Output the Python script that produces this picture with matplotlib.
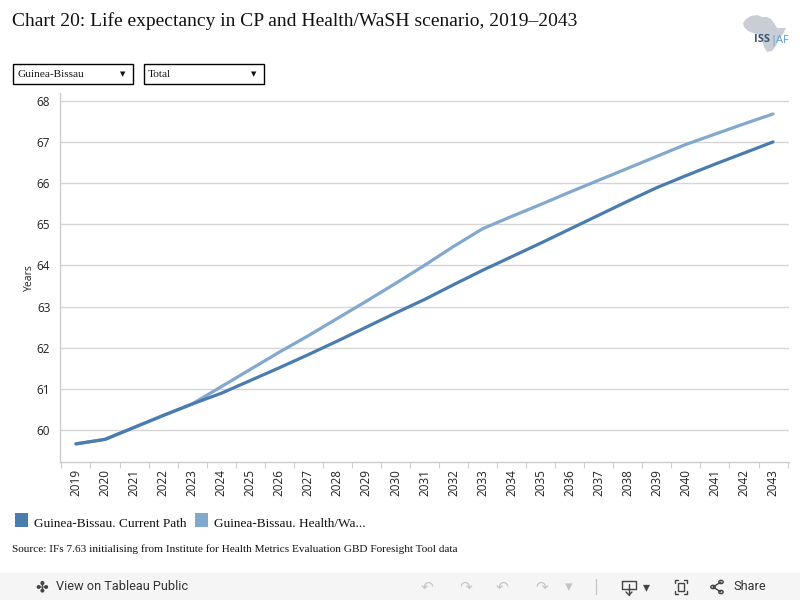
import matplotlib
matplotlib.use("Agg")
import matplotlib.pyplot as plt
from matplotlib.patches import Rectangle, Polygon
from matplotlib.lines import Line2D
import numpy as np

# ---- data ----
years = [str(y) for y in range(2019, 2044)]
current_path = [59.66, 59.77, 60.06, 60.35, 60.63, 60.89, 61.20, 61.51, 61.83, 62.16,
                62.50, 62.84, 63.17, 63.53, 63.88, 64.21, 64.54, 64.88, 65.22, 65.56,
                65.89, 66.18, 66.46, 66.73, 67.00]
health_wash = [59.66, 59.77, 60.06, 60.35, 60.63, 61.05, 61.47, 61.89, 62.29, 62.71,
               63.13, 63.56, 64.00, 64.46, 64.89, 65.19, 65.48, 65.78, 66.07, 66.36,
               66.65, 66.94, 67.19, 67.44, 67.68]
y_ticks = [60, 61, 62, 63, 64, 65, 66, 67, 68]
series_labels = ["Guinea-Bissau. Current Path", "Guinea-Bissau. Health/Wa..."]

DARK = "#4a7cad"
LIGHT = "#82a9cd"
W, H = 800, 600

def fx(px):
    return px / W

def fy(py):
    return 1 - py / H

fig = plt.figure(figsize=(8, 6), dpi=100)
fig.patch.set_facecolor("white")

SERIF = ["Liberation Serif", "DejaVu Serif"]
SANS = ["Open Sans", "DejaVu Sans"]

def fig_line(pts, color, lw=1.2):
    fig.lines.append(Line2D([fx(a) for a, b in pts], [fy(b) for a, b in pts],
                            transform=fig.transFigure, color=color, lw=lw,
                            solid_capstyle="round", solid_joinstyle="round"))

# title
fig.text(fx(12), fy(21), "Chart 20: Life expectancy in CP and Health/WaSH scenario, 2019\u20132043",
         family=SERIF, fontsize=14, va="center", ha="left", color="#111111")

# logo (rough Africa silhouette + text)
africa_px = [(746, 19), (751, 16), (757, 15), (762, 17), (767, 17), (771, 19), (774, 23),
             (777, 28), (786, 28), (783, 34), (778, 40), (776, 46), (772, 51), (767, 52),
             (764, 47), (762, 40), (759, 35), (753, 33), (748, 31), (744, 27), (743, 23)]
fig.patches.append(Polygon([(fx(a), fy(b)) for a, b in africa_px], closed=True,
                           transform=fig.transFigure, facecolor="#c9ced6", edgecolor="none"))
fig.text(fx(754), fy(40), "ISS", family=SANS, fontsize=8, color="#3e5576",
         va="center", ha="left", fontweight="bold")
fig.text(fx(770), fy(40), "|AF", family=SANS, fontsize=8, color="#5c9ad3",
         va="center", ha="left")

# dropdowns
for x0, x1, label in [(13, 133, "Guinea-Bissau"), (144, 264, "Total")]:
    fig.patches.append(Rectangle((fx(x0), fy(84)), fx(x1 - x0), (84 - 64) / H,
                                 transform=fig.transFigure, facecolor="white",
                                 edgecolor="black", linewidth=1.0))
    fig.text(fx(x0 + 4), fy(74.5), label, family=SERIF, fontsize=8.2,
             va="center", ha="left", color="#111111")
    fig.text(fx(x1 - 10), fy(74), "\u25bc", family=["DejaVu Sans"], fontsize=5,
             va="center", ha="center", color="#111111")

# axes
ax = fig.add_axes([fx(60), fy(462), fx(789 - 60), (462 - 93) / H])
x = np.arange(len(years))
ax.plot(x, health_wash, color=LIGHT, lw=2.3, solid_capstyle="round", zorder=3)
ax.plot(x, current_path, color=DARK, lw=2.3, solid_capstyle="round", zorder=4)

ax.set_xlim(-0.55, len(years) - 1 + 0.55)
ax.set_ylim(59.22, 68.19)
ax.set_yticks(y_ticks)
ax.set_yticklabels([str(v) for v in y_ticks], family=SANS, fontsize=8.5, color="#222222")
ax.set_xticks(x)
ax.set_xticklabels(years, rotation=90, family=SANS, fontsize=8.5, color="#222222")
ax.set_xticks(np.arange(-0.5, len(years), 1.0), minor=True)
ax.tick_params(axis="y", length=0, pad=7)
ax.tick_params(axis="x", which="major", length=0, pad=5)
ax.tick_params(axis="x", which="minor", length=4, width=0.8, color="#d0d0d0")
ax.grid(axis="y", color="#d6d6d6", lw=1.0)
ax.set_axisbelow(True)
for s in ["top", "right"]:
    ax.spines[s].set_visible(False)
for s in ["left", "bottom"]:
    ax.spines[s].set_color("#cccccc")
    ax.spines[s].set_linewidth(1.0)
ax.set_ylabel("Years", family=SANS, fontsize=7.5, color="#222222", labelpad=1)

# legend
for (x0, color, label) in [(15, DARK, series_labels[0]), (195, LIGHT, series_labels[1])]:
    fig.patches.append(Rectangle((fx(x0), fy(527)), fx(13), 14 / H, transform=fig.transFigure,
                                 facecolor=color, edgecolor="none"))
    fig.text(fx(x0 + 19), fy(524), label, family=SERIF, fontsize=9.5, va="center",
             ha="left", color="#111111")

# source
fig.text(fx(12), fy(549), "Source: IFs 7.63 initialising from Institute for Health Metrics "
         "Evaluation GBD Foresight Tool data", family=SERIF, fontsize=8.1, va="center",
         ha="left", color="#111111")

# toolbar
fig.patches.append(Rectangle((0, 0), 1, (600 - 573) / H, transform=fig.transFigure,
                             facecolor="#f5f5f5", edgecolor="none"))
TB = fy(587)
fig.text(fx(42), TB, "\u2724", family=["DejaVu Sans"], fontsize=11, va="center", ha="center",
         color="#444444")
fig.text(fx(56), TB, "View on Tableau Public", family=["Roboto", "DejaVu Sans"], fontsize=9.2,
         va="center", ha="left", color="#333333")
for px, ch in [(427, "\u21b6"), (466, "\u21b7"), (502, "\u21b6"), (542, "\u21b7"), (569, "\u25be")]:
    fig.text(fx(px), TB, ch, family=["DejaVu Sans"], fontsize=11, va="center", ha="center",
             color="#c4c4c4")
fig.text(fx(596), TB, "|", family=["DejaVu Sans"], fontsize=11, va="center", ha="center",
         color="#c4c4c4")
# download icon (tray with arrow)
fig_line([(622, 581), (622, 589), (636, 589), (636, 581), (622, 581)], "#444444", 1.0)
fig_line([(629, 584), (629, 595)], "#444444", 1.0)
fig_line([(626, 592), (629, 595), (632, 592)], "#444444", 1.0)
fig.text(fx(646), TB, "\u25be", family=["DejaVu Sans"], fontsize=10, va="center", ha="center",
         color="#444444")
# fullscreen icon
fig_line([(675, 583), (675, 580), (678, 580)], "#444444", 1.0)
fig_line([(684, 580), (687, 580), (687, 583)], "#444444", 1.0)
fig_line([(675, 591), (675, 594), (678, 594)], "#444444", 1.0)
fig_line([(684, 594), (687, 594), (687, 591)], "#444444", 1.0)
fig.patches.append(Rectangle((fx(678), fy(591)), fx(6), 8 / H, transform=fig.transFigure,
                             facecolor="none", edgecolor="#444444", linewidth=1.0))
# share icon
fig_line([(721, 582), (713, 587), (721, 592)], "#444444", 1.0)
for cx, cy in [(721, 582), (713, 587), (721, 592)]:
    fig.patches.append(plt.Circle((fx(cx), fy(cy)), 2.2 / W, transform=fig.transFigure,
                                  facecolor="#f5f5f5", edgecolor="#444444", linewidth=1.0))
fig.text(fx(733), TB, "Share", family=["Roboto", "DejaVu Sans"], fontsize=9.2,
         va="center", ha="left", color="#333333")

fig.savefig("out.png", dpi=100)
